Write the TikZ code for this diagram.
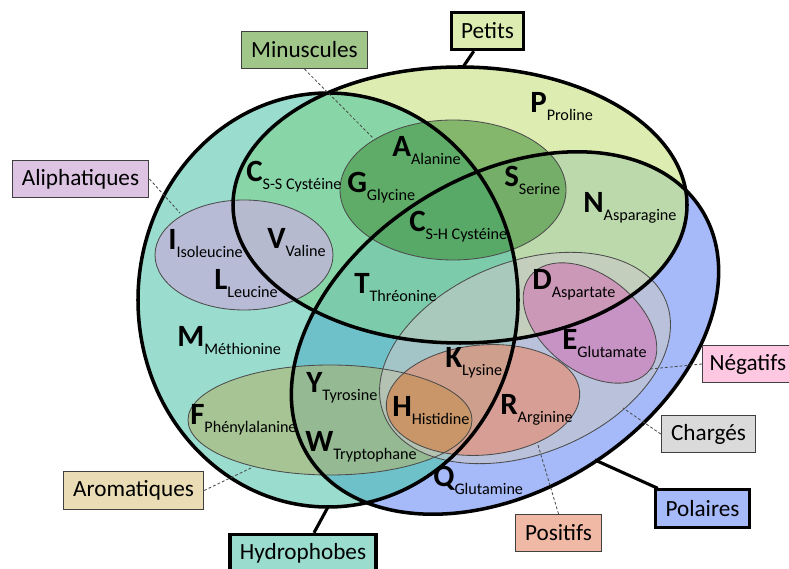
\documentclass[tikz,border=0pt]{standalone}
\usepackage{fontspec}
\setmainfont{Carlito}
\usepackage{tikz}
\usetikzlibrary{positioning}
\definecolor{hydrocol}{RGB}{154,220,206}
\definecolor{petitcol}{RGB}{221,237,177}
\definecolor{polcol}{RGB}{166,185,248}
\definecolor{hpcol}{RGB}{136,213,168}
\definecolor{hqcol}{RGB}{111,193,201}
\definecolor{pqcol}{RGB}{188,217,172}
\definecolor{hpqcol}{RGB}{124,203,170}
\definecolor{mincol}{RGB}{60,140,50}
\definecolor{alicol}{RGB}{190,182,215}
\definecolor{arocol}{RGB}{175,180,110}
\definecolor{chacol}{RGB}{200,200,200}
\definecolor{poscol}{RGB}{230,140,110}
\definecolor{negcol}{RGB}{209,117,181}
\definecolor{hiscol}{RGB}{200,150,105}
\definecolor{mintag}{RGB}{160,198,138}
\definecolor{alitag}{RGB}{220,196,226}
\definecolor{arotag}{RGB}{234,220,180}
\definecolor{negtag}{RGB}{255,200,226}
\definecolor{chatag}{RGB}{218,218,218}
\definecolor{postag}{RGB}{240,185,165}
\newcommand\ellhydro{(328,300) ellipse (190 and 207)}
\newcommand\ellpetits{(460,205) ellipse (227 and 138)}
\newcommand\ellpolaires{[rotate around={32:(505,333)}] (505,333) ellipse (232 and 157)}
\newcommand\ellmin{(453,190) ellipse (113 and 70)}
\newcommand\ellali{(244,255) ellipse (89 and 55)}
\newcommand\ellaro{(330,420) ellipse (142 and 55)}
\newcommand\ellcha{[rotate around={22:(525,358)}] (525,358) ellipse (152 and 96)}
\newcommand\ellpos{[rotate around={5:(483,400)}] (483,400) ellipse (97 and 55)}
\newcommand\ellneg{[rotate around={-38:(590,323)}] (590,323) ellipse (76 and 48)}
\newcommand\aac[2]{{\fontsize{22}{22}\selectfont\bfseries #1}{\fontsize{11.5}{12}\selectfont\raisebox{-5.5pt}{#2}}}
\tikzset{
  bigset/.style={draw=black, line width=2.5pt},
  subset/.style={draw=black!70, line width=0.6pt},
  tag/.style={draw=black!75, line width=0.7pt, inner xsep=7pt, minimum height=0.93cm, font=\fontsize{16.5}{18}\selectfont},
  bigtag/.style={tag, draw=black, line width=2.2pt},
  leader/.style={black!70, line width=0.6pt, dash pattern=on 2pt off 1.5pt},
  bigleader/.style={black, line width=2.2pt},
  acide/.style={anchor=base west, inner sep=0pt}
}
\begin{document}
\begin{tikzpicture}[x=0.025cm, y=-0.025cm]
\useasboundingbox (0,0) rectangle (789,569);

\fill[hydrocol] \ellhydro;
\fill[petitcol] \ellpetits;
\fill[polcol] \ellpolaires;
\begin{scope} \clip \ellhydro; \fill[hpcol] \ellpetits; \fill[hqcol] \ellpolaires; \end{scope}
\begin{scope} \clip \ellpetits; \fill[pqcol] \ellpolaires; \end{scope}
\begin{scope} \clip \ellhydro; \clip \ellpetits; \fill[hpqcol] \ellpolaires; \end{scope}

\fill[mincol, fill opacity=.55] \ellmin;
\fill[alicol, fill opacity=.85] \ellali;
\fill[arocol, fill opacity=.6] \ellaro;
\fill[chacol, fill opacity=.6] \ellcha;
\fill[poscol, fill opacity=.65] \ellpos;
\begin{scope} \clip \ellaro; \fill[hiscol] \ellpos; \end{scope}
\fill[negcol, fill opacity=.6] \ellneg;
\draw[subset] \ellmin;
\draw[subset] \ellali;
\draw[subset] \ellaro;
\draw[subset] \ellcha;
\draw[subset] \ellpos;
\draw[subset] \ellneg;

\draw[bigset] \ellhydro;
\draw[bigset] \ellpetits;
\draw[bigset] \ellpolaires;

\node[bigtag, fill=petitcol] (petitsbox) at (487.5,31) {Petits};
\node[tag, fill=mintag] (minbox) at (304.5,50) {Minuscules};
\node[tag, fill=alitag] (alibox) at (80.5,179) {Aliphatiques};
\node[tag, fill=arotag] (arobox) at (133.5,490.5) {Aromatiques};
\node[bigtag, fill=hydrocol] (hydrobox) at (303,553) {Hydrophobes};
\node[tag, fill=negtag, anchor=west, inner xsep=5pt] (negbox) at (702,364) {Négatifs};
\node[tag, fill=chatag] (chabox) at (708.5,434) {Chargés};
\node[bigtag, fill=polcol] (polbox) at (702.5,508.5) {Polaires};
\node[tag, fill=postag] (posbox) at (558.5,533) {Positifs};

\coordinate (petitsend) at (463,67);
\coordinate (minend) at (373,138);
\coordinate (aliend) at (180,213);
\coordinate (aroend) at (253,467);
\coordinate (hydroend) at (328,507);
\coordinate (negend) at (650,369);
\coordinate (chaend) at (623,408);
\coordinate (polend) at (595,460);
\coordinate (posend) at (538,445);
\draw[bigleader] (petitsbox) -- (petitsend);
\draw[bigleader] (hydrobox) -- (hydroend);
\draw[bigleader] (polbox) -- (polend);
\draw[leader] (minbox.south) -- (minend);
\draw[leader] (alibox.east) -- (aliend);
\draw[leader] (arobox.east) -- (aroend);
\draw[leader] (negbox.west) -- (negend);
\draw[leader] (chabox.west) -- (chaend);
\draw[leader] (posbox.north) -- (posend);

\node[acide] (pro) at (530,113) {\aac{P}{Proline}};
\node[acide] (ala) at (392,157) {\aac{A}{Alanine}};
\node[acide] (gly) at (347,193) {\aac{G}{Glycine}};
\node[acide] (cyss) at (246,182) {\aac{C}{S-S Cystéine}};
\node[acide] (ser) at (504,187) {\aac{S}{Serine}};
\node[acide] (cysh) at (409,232) {\aac{C}{S-H Cystéine}};
\node[acide] (asn) at (583,213) {\aac{N}{Asparagine}};
\node[acide] (ile) at (168,250) {\aac{I}{Isoleucine}};
\node[acide] (val) at (267,249) {\aac{V}{Valine}};
\node[acide] (leu) at (214,290) {\aac{L}{Leucine}};
\node[acide] (thr) at (354,294) {\aac{T}{Thréonine}};
\node[acide] (met) at (177,347) {\aac{M}{Méthionine}};
\node[acide] (asp) at (532,290) {\aac{D}{Aspartate}};
\node[acide] (glu) at (562,350) {\aac{E}{Glutamate}};
\node[acide] (lys) at (445,368) {\aac{K}{Lysine}};
\node[acide] (tyr) at (306,393) {\aac{Y}{Tyrosine}};
\node[acide] (his) at (392,417) {\aac{H}{Histidine}};
\node[acide] (arg) at (500,415) {\aac{R}{Arginine}};
\node[acide] (phe) at (190,425) {\aac{F}{Phénylalanine}};
\node[acide] (trp) at (305,452) {\aac{W}{Tryptophane}};
\node[acide] (gln) at (433,487) {\aac{Q}{Glutamine}};
\end{tikzpicture}
\end{document}
